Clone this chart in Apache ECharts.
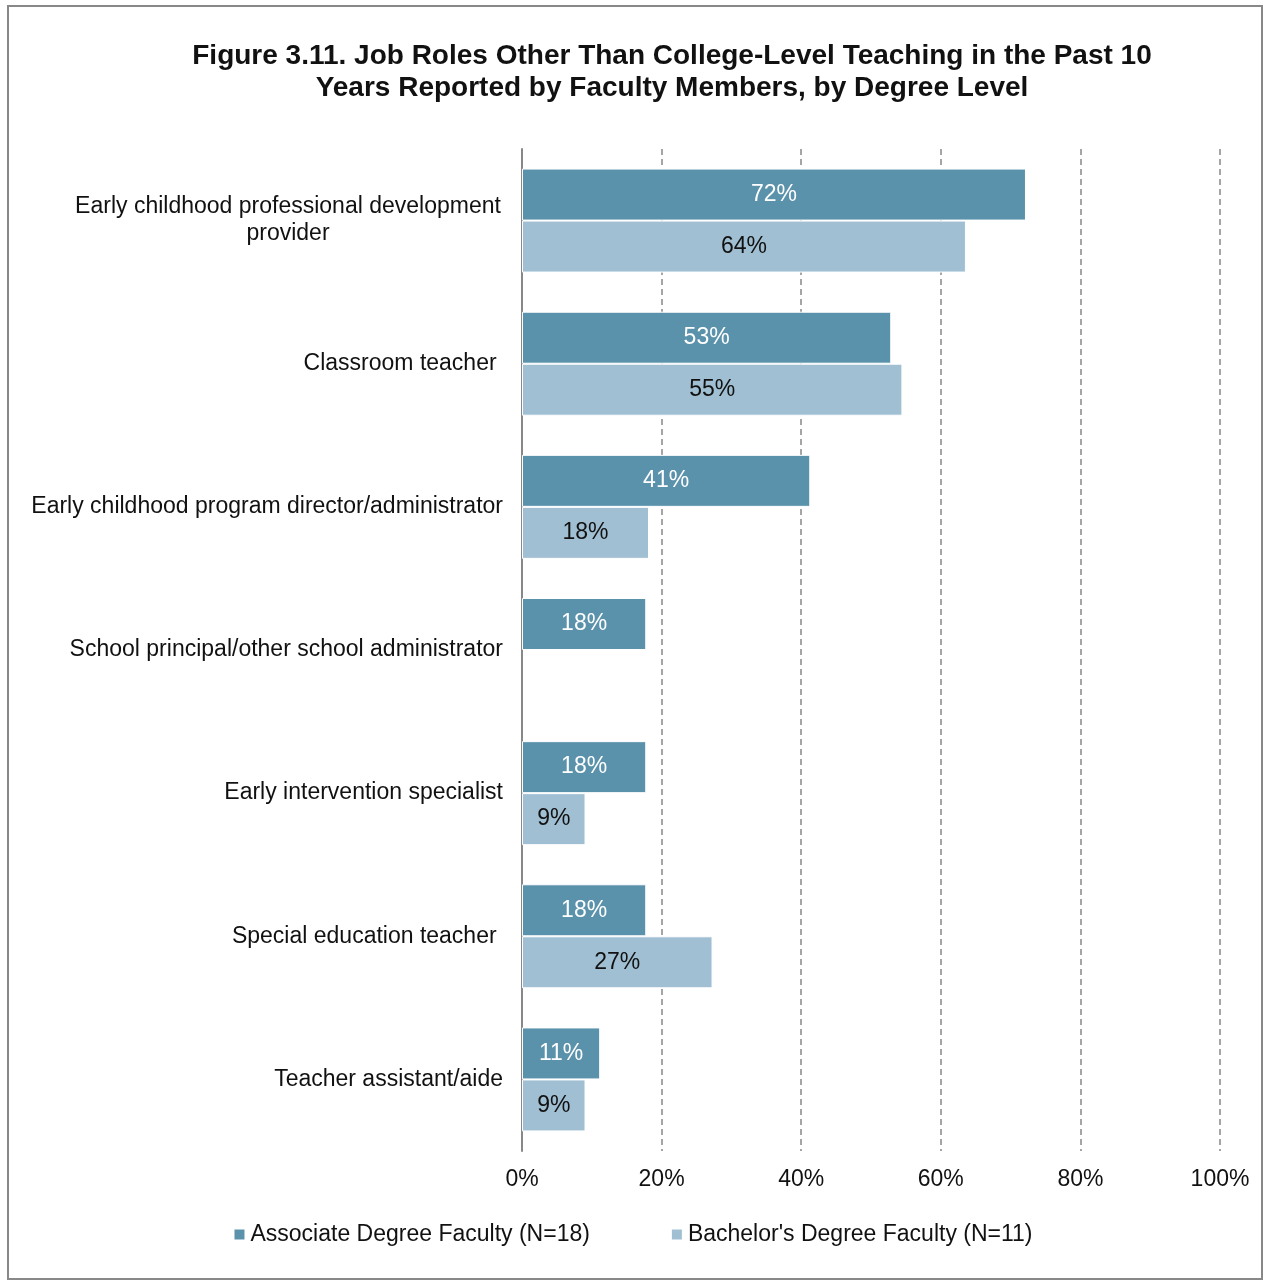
<!DOCTYPE html>
<html>
<head>
<meta charset="utf-8">
<script src="https://cdn.jsdelivr.net/npm/echarts@6/dist/echarts.min.js"></script>
<style>
  html, body { margin: 0; padding: 0; background: #fff; }
  #myChart { width: 1265px; height: 1282px; }
</style>
</head>
<body>
<div id="myChart"></div>
<script>
// categories, top to bottom
var roles = [
  'Early childhood professional development\nprovider',
  'Classroom teacher ',
  'Early childhood program director/administrator',
  'School principal/other school administrator',
  'Early intervention specialist',
  'Special education teacher ',
  'Teacher assistant/aide'
];
var associateVals = [72.2, 52.9, 41.3, 17.8, 17.8, 17.8, 11.2];
var bachelorVals = [63.6, 54.5, 18.2, null, 9.1, 27.3, 9.1];
var seriesNames = ['Associate Degree Faculty (N=18)', "Bachelor's Degree Faculty (N=11)"];
var xTicks = [0, 20, 40, 60, 80, 100];

var FONT = 'Arial, "Liberation Sans", sans-serif';

function pct(p) {
  return Math.round(p.value) + '%';
}

var option = {
  animation: false,
  textStyle: { fontFamily: FONT },
  color: ['#5B92AB', '#A0BFD3'],
  title: {
    text: 'Figure 3.11. Job Roles Other Than College-Level Teaching in the Past 10\nYears Reported by Faculty Members, by Degree Level',
    left: 667,
    textAlign: 'center',
    top: 35,
    textStyle: { fontSize: 28, fontWeight: 'bold', color: '#111', lineHeight: 32, fontFamily: FONT }
  },
  legend: {
    data: seriesNames,
    top: 1218,
    left: 'center',
    itemWidth: 12,
    itemHeight: 12,
    itemGap: 80,
    icon: 'rect',
    textStyle: { fontSize: 23, color: '#111' }
  },
  grid: { left: 522, right: 45, top: 149, bottom: 131 },
  xAxis: {
    type: 'value',
    min: 0,
    max: 100,
    interval: 20,
    axisLine: { show: false },
    axisTick: { show: false },
    axisLabel: {
      fontSize: 23, color: '#111', margin: 17,
      formatter: function (v) { return xTicks.indexOf(v) >= 0 ? v + '%' : ''; }
    },
    splitLine: { show: true, lineStyle: { color: '#888', type: [6, 4], width: 1.5 } }
  },
  yAxis: {
    type: 'category',
    data: roles,
    inverse: true,
    axisLine: { show: true, lineStyle: { color: '#888', width: 2 } },
    axisTick: { show: false },
    axisLabel: {
      fontSize: 23, color: '#111', margin: 19, lineHeight: 27,
      formatter: function (v) {
        if (v.indexOf('\n') >= 0) {
          return v.split('\n').map(function (s) { return '{c|' + s + '}'; }).join('\n');
        }
        return v;
      },
      rich: { c: { width: 430, align: 'center', fontSize: 23, color: '#111', lineHeight: 27 } }
    }
  },
  series: [
    {
      name: seriesNames[0],
      type: 'bar',
      data: associateVals,
      barWidth: 52,
      barGap: '0%',
      itemStyle: { borderColor: '#fff', borderWidth: 1 },
      label: { show: true, position: 'inside', color: '#fff', fontSize: 23, formatter: pct }
    },
    {
      name: seriesNames[1],
      type: 'bar',
      data: bachelorVals,
      barWidth: 52,
      barGap: '0%',
      itemStyle: { borderColor: '#fff', borderWidth: 1 },
      label: { show: true, position: 'inside', color: '#111', fontSize: 23, formatter: pct }
    }
  ],
  graphic: [{
    type: 'rect',
    shape: { x: 8, y: 6, width: 1254, height: 1273 },
    style: { fill: 'none', stroke: '#888', lineWidth: 2 },
    silent: true,
    z: -1
  }]
};

var myChart = echarts.init(document.getElementById('myChart'));
myChart.setOption(option);
</script>
</body>
</html>
